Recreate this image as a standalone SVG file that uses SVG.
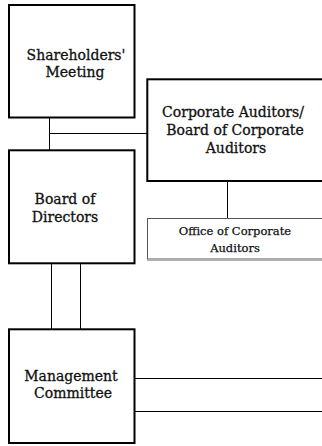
<svg xmlns="http://www.w3.org/2000/svg" width="322" height="446" viewBox="0 0 322 446">
<style>
.box{fill:#fff;stroke:#000;stroke-width:2}
.sub{fill:#fff;stroke:#555;stroke-width:1}
.shadow{stroke:#b0b0b0;stroke-width:2}
.ln{stroke:#000;stroke-width:1;fill:none}
text{font-family:"DejaVu Serif","Liberation Serif",serif;font-size:14px;fill:#111;stroke:#111;stroke-width:0.3;text-anchor:middle}
.small{font-size:11.5px;stroke-width:0.25}
</style>
<rect width="322" height="446" fill="#fff"/>
<g id="connectors">
<line class="ln" x1="49.5" y1="118" x2="49.5" y2="150"/>
<line class="ln" x1="49.5" y1="133.5" x2="147" y2="133.5"/>
<line class="ln" x1="227.5" y1="182" x2="227.5" y2="218.5"/>
<line class="ln" x1="51.5" y1="264" x2="51.5" y2="329"/>
<line class="ln" x1="80.5" y1="264" x2="80.5" y2="329"/>
<line class="ln" x1="135" y1="378.5" x2="322" y2="378.5"/>
<line class="ln" x1="135" y1="411.5" x2="322" y2="411.5"/>
</g>
<g id="shareholders">
<rect class="box" x="9" y="5" width="125.5" height="112.5"/>
<text x="76" y="60">Shareholders'</text>
<text x="75" y="77">Meeting</text>
</g>
<g id="auditors">
<rect class="box" x="147.3" y="79.3" width="200" height="101.7"/>
<text x="233" y="117">Corporate Auditors/</text>
<text x="235" y="135">Board of Corporate</text>
<text x="236" y="153">Auditors</text>
</g>
<g id="office">
<rect class="sub" x="147.5" y="218.5" width="200" height="40.5"/>
<line class="shadow" x1="147" y1="260" x2="322" y2="260"/>
<text class="small" x="235" y="235">Office of Corporate</text>
<text class="small" x="235" y="251.5">Auditors</text>
</g>
<g id="board">
<rect class="box" x="9" y="150.3" width="125.5" height="113"/>
<text x="65" y="204">Board of</text>
<text x="65" y="221.5">Directors</text>
</g>
<g id="management">
<rect class="box" x="9" y="329.3" width="125.5" height="113.7"/>
<text x="71" y="380.7">Management</text>
<text x="73" y="398">Committee</text>
</g>
</svg>
